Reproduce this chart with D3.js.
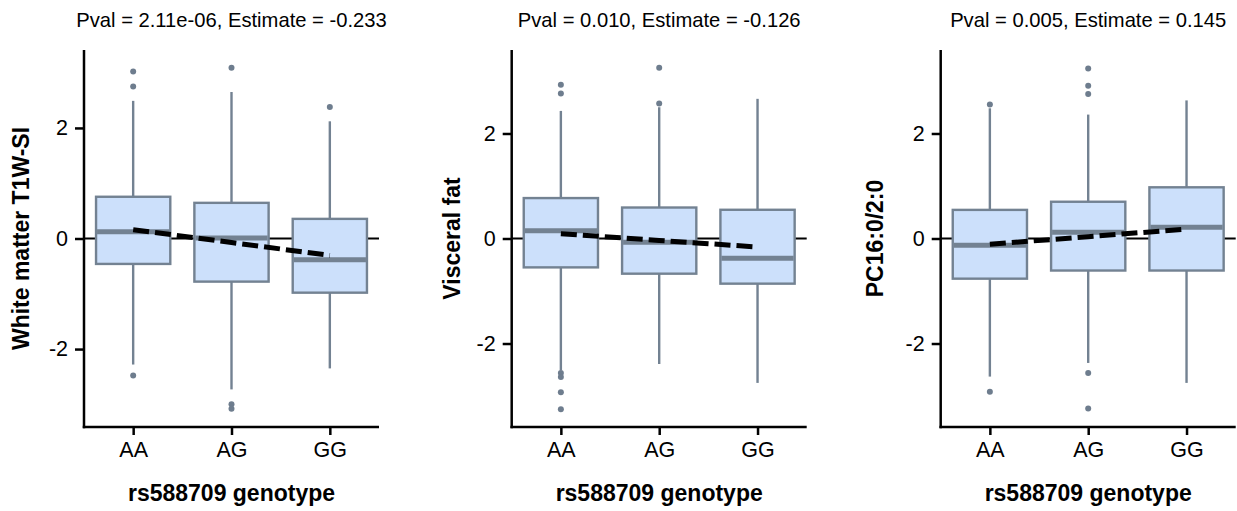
<!DOCTYPE html>
<html>
<head>
<meta charset="utf-8">
<script src="https://cdn.jsdelivr.net/npm/d3@7"></script>
<style>
  html, body { margin: 0; padding: 0; background: #ffffff; }
  svg { display: block; font-family: "Liberation Sans", Arial, Helvetica, sans-serif; }
</style>
</head>
<body>
<svg id="chart" width="1237" height="511"></svg>
<script>
// Genotype groups on the x axis
const genotypes = ["AA", "AG", "GG"];

// Panel headings and y-axis titles
const panelTitles = [
  "Pval = 2.11e-06, Estimate = -0.233",
  "Pval = 0.010, Estimate = -0.126",
  "Pval = 0.005, Estimate = 0.145"
];
const yTitles = ["White matter T1W-SI", "Visceral fat", "PC16:0/2:0"];
const xTitle = "rs588709 genotype";
const yTicks = [-2, 0, 2];

// Regression estimate per allele (slope of the dashed fit) and fitted value at AA
const estimates = [-0.233, -0.126, 0.145];
const fitAtAA = [0.16, 0.09, -0.11];

// Box statistics per genotype: [lower whisker, Q1, median, Q3, upper whisker]
const whiteMatterBoxes = [
  [-2.28, -0.46, 0.12, 0.755, 2.49],
  [-2.73, -0.78, 0.01, 0.645, 2.65],
  [-2.35, -0.98, -0.385, 0.355, 2.12]
];
const visceralFatBoxes = [
  [-2.51, -0.55, 0.147, 0.77, 2.43],
  [-2.39, -0.67, -0.07, 0.59, 2.50],
  [-2.75, -0.86, -0.375, 0.547, 2.66]
];
const pc160Boxes = [
  [-2.63, -0.765, -0.13, 0.545, 2.48],
  [-2.37, -0.61, 0.12, 0.70, 2.36],
  [-2.75, -0.61, 0.216, 0.975, 2.63]
];

// Outlying observations per genotype
const whiteMatterOutliers = [[3.02, 2.75, -2.48], [3.09, -3.0, -3.08], [2.38]];
const visceralFatOutliers = [[2.93, 2.76, -2.56, -2.64, -2.93, -3.25], [3.25, 2.57], []];
const pc160Outliers = [[2.55, -2.92], [3.24, 2.91, 2.75, -2.56, -3.24], []];

// y-axis limits per panel
const yDomains = [[-3.41, 3.41], [-3.59, 3.59], [-3.59, 3.59]];

const panels = [
  { boxes: whiteMatterBoxes, outliers: whiteMatterOutliers },
  { boxes: visceralFatBoxes, outliers: visceralFatOutliers },
  { boxes: pc160Boxes, outliers: pc160Outliers }
];

// Layout
const panelLeft = [84, 511.7, 940.7];
const panelWidth = 295;
const plotTop = 50, plotBottom = 427;
const yTitleX = [29, 460, 883];

const boxFill = "#cce0fb";
const boxStroke = "#738292";
const pointFill = "#6e7d8e";
const fontStack = "'Liberation Sans', Arial, Helvetica, sans-serif";

const svg = d3.select("#chart");

panels.forEach((p, i) => {
  const left = panelLeft[i], right = left + panelWidth;
  const x = d3.scalePoint().domain(genotypes).range([left, right]).padding(0.5);
  const y = d3.scaleLinear().domain(yDomains[i]).range([plotBottom, plotTop]);
  const bw = x.step() * 0.755;
  const g = svg.append("g");

  // Reference line at zero
  g.append("line")
    .attr("x1", left).attr("x2", right)
    .attr("y1", y(0)).attr("y2", y(0))
    .attr("stroke", "#000").attr("stroke-width", 2);

  const grp = g.selectAll("g.box").data(genotypes).join("g").attr("class", "box");

  // Whiskers
  grp.append("line")
    .attr("x1", d => x(d)).attr("x2", d => x(d))
    .attr("y1", (d, j) => y(p.boxes[j][3])).attr("y2", (d, j) => y(p.boxes[j][4]))
    .attr("stroke", boxStroke).attr("stroke-width", 2.4);
  grp.append("line")
    .attr("x1", d => x(d)).attr("x2", d => x(d))
    .attr("y1", (d, j) => y(p.boxes[j][1])).attr("y2", (d, j) => y(p.boxes[j][0]))
    .attr("stroke", boxStroke).attr("stroke-width", 2.4);

  // Boxes
  grp.append("rect")
    .attr("x", d => x(d) - bw / 2).attr("width", bw)
    .attr("y", (d, j) => y(p.boxes[j][3]))
    .attr("height", (d, j) => y(p.boxes[j][1]) - y(p.boxes[j][3]))
    .attr("fill", boxFill).attr("stroke", boxStroke).attr("stroke-width", 2.4);

  // Medians
  grp.append("line")
    .attr("x1", d => x(d) - bw / 2 + 1).attr("x2", d => x(d) + bw / 2 - 1)
    .attr("y1", (d, j) => y(p.boxes[j][2])).attr("y2", (d, j) => y(p.boxes[j][2]))
    .attr("stroke", boxStroke).attr("stroke-width", 5);

  // Outliers
  grp.selectAll("circle")
    .data((d, j) => p.outliers[j].map(v => ({ g: d, v })))
    .join("circle")
    .attr("cx", o => x(o.g)).attr("cy", o => y(o.v)).attr("r", 3)
    .attr("fill", pointFill);

  // Dashed regression fit across genotypes
  const fit = genotypes.map((d, j) => [x(d), y(fitAtAA[i] + estimates[i] * j)]);
  g.append("path")
    .attr("d", d3.line()(fit))
    .attr("fill", "none").attr("stroke", "#000")
    .attr("stroke-width", 5).attr("stroke-dasharray", "16,6");

  // Axes
  const yAxis = g.append("g").attr("transform", `translate(${left},0)`)
    .call(d3.axisLeft(y).tickValues(yTicks).tickFormat(d3.format("d")).tickSize(9).tickPadding(7));
  const xAxis = g.append("g").attr("transform", `translate(0,${plotBottom})`)
    .call(d3.axisBottom(x).tickSize(8).tickPadding(7));
  [yAxis, xAxis].forEach(a => {
    a.select(".domain").remove();
    a.selectAll(".tick line").attr("stroke", "#000").attr("stroke-width", 2.5);
    a.selectAll(".tick text").attr("fill", "#000").style("font-size", "21.5px")
      .style("font-family", fontStack);
  });
  yAxis.selectAll(".tick text").text(d => d < 0 ? "-" + Math.abs(d) : d);

  g.append("line").attr("x1", left).attr("x2", left)
    .attr("y1", plotTop).attr("y2", plotBottom + 1.25)
    .attr("stroke", "#000").attr("stroke-width", 2.5);
  g.append("line").attr("x1", left - 1.25).attr("x2", right)
    .attr("y1", plotBottom).attr("y2", plotBottom)
    .attr("stroke", "#000").attr("stroke-width", 2.5);

  // Titles
  g.append("text")
    .attr("x", (left + right) / 2).attr("y", 26.5)
    .attr("text-anchor", "middle").style("font-size", "20.2px")
    .text(panelTitles[i]);
  g.append("text")
    .attr("x", (left + right) / 2).attr("y", 501)
    .attr("text-anchor", "middle").style("font-size", "23px").style("font-weight", "bold")
    .text(xTitle);
  g.append("text")
    .attr("transform", `translate(${yTitleX[i]},${(plotTop + plotBottom) / 2}) rotate(-90)`)
    .attr("text-anchor", "middle").style("font-size", "23px").style("font-weight", "bold")
    .text(yTitles[i]);
});
</script>
</body>
</html>
